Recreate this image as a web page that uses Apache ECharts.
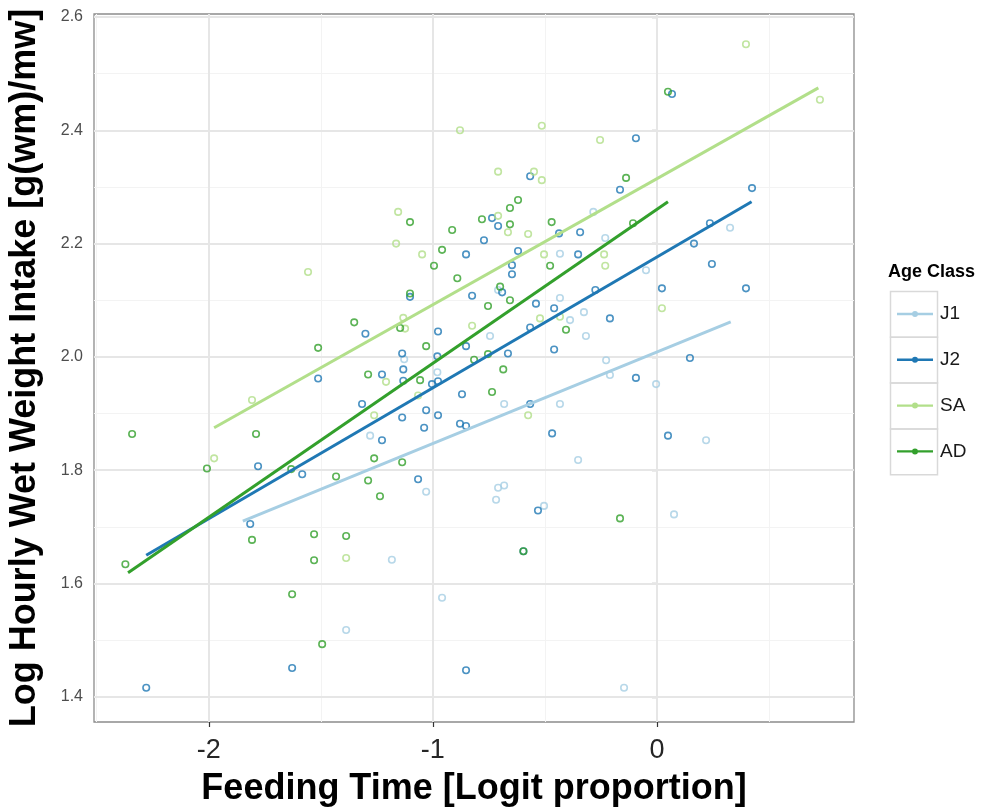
<!DOCTYPE html>
<html>
<head>
<meta charset="utf-8">
<script src="https://cdn.jsdelivr.net/npm/echarts@6/dist/echarts.min.js"></script>
<style>
  html, body { margin: 0; padding: 0; background: #ffffff; }
  #chart { width: 991px; height: 807px; }
</style>
</head>
<body>
<div id="chart"></div>
<script>
// Age classes and their colours
const ageClasses = ['J1', 'J2', 'SA', 'AD'];
const classColors = ['#a6cee3', '#1f78b4', '#b2df8a', '#33a02c'];

// Observations: [feeding time (logit), log hourly wet weight intake]
const j1Points = [
  [-0.284, 2.256], [-0.231, 2.210], [-0.433, 2.182], [0.326, 2.228], [-0.049, 2.153],
  [-0.227, 1.994], [-0.210, 1.968], [-0.004, 1.952], [0.219, 1.853], [0.076, 1.722],
  [-0.147, 1.416], [-1.030, 1.762], [-0.709, 1.769], [-0.682, 1.773], [-0.718, 1.748],
  [-0.504, 1.737], [-1.183, 1.642], [-0.959, 1.575], [-1.387, 1.518], [-0.709, 2.118],
  [-0.433, 2.104], [-0.326, 2.079], [-0.388, 2.065], [-0.317, 2.037], [-0.745, 2.037],
  [-1.128, 1.996], [-0.980, 1.973], [-0.682, 1.917], [-0.433, 1.917], [-0.352, 1.818],
  [-1.280, 1.861]
];
const j2Points = [
  [-0.566, 2.319], [-0.736, 2.245], [-0.709, 2.231], [-0.772, 2.206], [-0.437, 2.218],
  [-0.343, 2.220], [-0.852, 2.181], [-0.620, 2.187], [-0.352, 2.181], [0.067, 2.464],
  [-0.094, 2.386], [-0.165, 2.295], [0.424, 2.298], [0.165, 2.200], [0.236, 2.236],
  [0.245, 2.164], [0.022, 2.121], [0.397, 2.121], [-0.210, 2.068], [0.147, 1.998],
  [-0.094, 1.963], [0.049, 1.861], [-1.512, 1.962], [-1.780, 1.807], [-1.583, 1.793],
  [-1.815, 1.705], [-1.628, 1.451], [-2.279, 1.416], [-0.531, 1.729], [-0.596, 1.657],
  [-0.852, 1.447], [-0.647, 2.162], [-0.647, 2.146], [-1.102, 2.106], [-0.691, 2.114],
  [-0.825, 2.108], [-0.540, 2.094], [-0.459, 2.086], [-0.275, 2.118], [-0.566, 2.052],
  [-1.301, 2.041], [-0.977, 2.045], [-0.852, 2.019], [-0.459, 2.013], [-1.137, 2.006],
  [-0.980, 2.001], [-0.665, 2.006], [-1.132, 1.978], [-1.227, 1.969], [-1.132, 1.958],
  [-1.004, 1.952], [-0.977, 1.957], [-0.870, 1.934], [-1.316, 1.917], [-0.566, 1.917],
  [-1.137, 1.893], [-1.030, 1.906], [-0.977, 1.897], [-0.879, 1.882], [-0.852, 1.878],
  [-1.039, 1.875], [-1.227, 1.853], [-0.468, 1.865], [-1.066, 1.784]
];
const saPoints = [
  [-0.879, 2.400], [-0.514, 2.408], [-0.254, 2.383], [-0.709, 2.327], [-0.549, 2.327],
  [-0.514, 2.312], [-1.155, 2.256], [-0.709, 2.249], [-0.665, 2.220], [-0.575, 2.217],
  [-1.164, 2.200], [-1.048, 2.181], [-0.504, 2.181], [-0.236, 2.181], [-0.231, 2.161],
  [0.397, 2.552], [0.727, 2.454], [0.022, 2.086], [-1.557, 2.150], [-1.807, 1.924],
  [-1.976, 1.821], [-1.387, 1.645], [-0.522, 2.068], [-0.433, 2.071], [-0.825, 2.055],
  [-1.132, 2.069], [-1.124, 2.050], [-1.209, 1.956], [-1.066, 1.932], [-1.262, 1.897],
  [-0.575, 1.897]
];
const adPoints = [
  [-1.102, 2.238], [-0.620, 2.277], [-0.656, 2.263], [-0.781, 2.243], [-0.656, 2.234],
  [-0.914, 2.224], [-0.470, 2.238], [-0.959, 2.189], [0.049, 2.468], [-0.138, 2.316],
  [-0.107, 2.236], [-1.351, 2.061], [-1.512, 2.016], [-2.342, 1.864], [-1.789, 1.864],
  [-2.008, 1.803], [-1.632, 1.802], [-1.432, 1.789], [-2.372, 1.634], [-1.807, 1.677],
  [-1.530, 1.687], [-1.387, 1.684], [-1.530, 1.641], [-1.628, 1.581], [-1.494, 1.493],
  [-1.236, 1.754], [-0.596, 1.657], [-0.165, 1.715], [-0.995, 2.161], [-0.891, 2.139],
  [-0.477, 2.161], [-1.102, 2.112], [-0.700, 2.124], [-0.656, 2.100], [-0.754, 2.090],
  [-0.406, 2.048], [-1.146, 2.051], [-1.030, 2.019], [-0.816, 1.995], [-0.754, 2.005],
  [-0.686, 1.978], [-1.289, 1.969], [-1.057, 1.959], [-0.736, 1.938], [-1.262, 1.821],
  [-1.137, 1.814], [-1.289, 1.782]
];

// Fitted lines (start and end of each class's range)
const j1Fit = [[-1.848, 1.710], [0.329, 2.062]];
const j2Fit = [[-2.279, 1.650], [0.422, 2.274]];
const saFit = [[-1.976, 1.875], [0.720, 2.475]];
const adFit = [[-2.360, 1.619], [0.049, 2.274]];

// Axis ticks and grid lines
const xTicks = [-2, -1, 0];
const xMinor = [-2.5, -1.5, -0.5, 0.5];
const yTicks = [1.4, 1.6, 1.8, 2.0, 2.2, 2.4, 2.6];
const yMinor = [1.5, 1.7, 1.9, 2.1, 2.3, 2.5];

const pointSets = [j1Points, j2Points, saPoints, adPoints];
const fitSets = [j1Fit, j2Fit, saFit, adFit];

const FONT = '"Liberation Sans", Arial, Helvetica, sans-serif';
const MAJOR = '#e6e6e6';
const MINOR = '#f3f3f3';

const gridLines = []
  .concat(xMinor.map(v => ({ xAxis: v, lineStyle: { color: MINOR, width: 1, type: 'solid' } })))
  .concat(yMinor.map(v => ({ yAxis: v, lineStyle: { color: MINOR, width: 1, type: 'solid' } })))
  .concat(xTicks.map(v => ({ xAxis: v, lineStyle: { color: MAJOR, width: 2, type: 'solid' } })))
  .concat(yTicks.map(v => ({ yAxis: v, lineStyle: { color: MAJOR, width: 2, type: 'solid' } })));

const series = [{
  name: 'grid',
  type: 'line',
  data: [],
  z: 1,
  silent: true,
  markLine: {
    silent: true,
    z: 1,
    symbol: ['none', 'none'],
    label: { show: false },
    lineStyle: { type: 'solid' },
    emphasis: { disabled: true },
    animation: false,
    data: gridLines
  }
}];

// Fitted lines first so the legend takes its keys from them
ageClasses.forEach((name, i) => {
  series.push({
    name: name,
    type: 'line',
    data: fitSets[i],
    showSymbol: false,
    z: 4,
    itemStyle: { color: classColors[i] },
    lineStyle: { color: classColors[i], width: 3 }
  });
});
ageClasses.forEach((name, i) => {
  series.push({
    name: name,
    type: 'scatter',
    data: pointSets[i],
    symbol: 'circle',
    symbolSize: 6.5,
    z: 3,
    itemStyle: { color: 'rgba(255,255,255,0)', borderColor: classColors[i], borderWidth: 1.6 }
  });
});

// Legend key: a short line with a dot in the middle
const keyIcon = 'path://M0,2.8 L36,2.8 L36,5.2 L0,5.2 Z M21,4 A3,3 0 1,1 15,4 A3,3 0 1,1 21,4 Z';

const legendBoxes = [0, 1, 2, 3].map(k => ({
  type: 'rect',
  left: 888,
  top: 289 + k * 45.8,
  shape: { width: 47, height: 45.8 },
  style: { fill: 'none', stroke: '#d9d9d9', lineWidth: 1.5 },
  silent: true
}));

const chart = echarts.init(document.getElementById('chart'), null, { renderer: 'canvas' });
chart.setOption({
  animation: false,
  backgroundColor: '#ffffff',
  textStyle: { fontFamily: FONT },
  grid: {
    left: 94, right: 137, top: 14, bottom: 85,
    outerBoundsMode: 'none',
    containLabel: false,
    show: true, borderColor: '#8c8c8c', borderWidth: 1.3, backgroundColor: '#ffffff'
  },
  xAxis: {
    type: 'value',
    min: -2.512, max: 0.879,
    name: 'Feeding Time [Logit proportion]',
    nameLocation: 'middle',
    nameGap: 49,
    nameTextStyle: { fontSize: 36, fontWeight: 'bold', color: '#000000', fontFamily: FONT },
    axisLine: { show: false },
    splitLine: { show: false },
    axisTick: { show: true, length: 5, customValues: xTicks, lineStyle: { color: '#333333', width: 1.2 } },
    axisLabel: { customValues: xTicks, fontSize: 27, color: '#262626', margin: 15, fontFamily: FONT }
  },
  yAxis: {
    type: 'value',
    min: 1.3556, max: 2.6053,
    name: 'Log Hourly Wet Weight Intake [g(wm)/mw]',
    nameLocation: 'middle',
    nameRotate: 90,
    nameGap: 51,
    nameTextStyle: { fontSize: 36, fontWeight: 'bold', color: '#000000', fontFamily: FONT },
    axisLine: { show: false },
    splitLine: { show: false },
    axisTick: { show: true, length: 5, customValues: yTicks, lineStyle: { color: '#333333', width: 1.2 } },
    axisLabel: {
      customValues: yTicks, fontSize: 16, color: '#4d4d4d', margin: 11, fontFamily: FONT,
      formatter: v => v.toFixed(1)
    }
  },
  legend: {
    data: ageClasses.map((name, i) => ({
      name: name,
      icon: keyIcon,
      itemStyle: { color: classColors[i], borderWidth: 0 },
      lineStyle: { width: 0 }
    })),
    orient: 'vertical',
    left: 892,
    top: 299,
    itemWidth: 36,
    itemHeight: 8,
    itemGap: 25.8,
    selectedMode: false,
    itemStyle: { borderWidth: 0 },
    lineStyle: { width: 0 },
    textStyle: { fontSize: 19, color: '#1a1a1a', lineHeight: 20, fontFamily: FONT, padding: [0, 0, 0, 2] }
  },
  graphic: legendBoxes.concat([{
    type: 'text',
    left: 888,
    top: 263,
    style: { text: 'Age Class', font: 'bold 18px ' + FONT, fill: '#000000' },
    silent: true
  }]),
  series: series
});
</script>
</body>
</html>
